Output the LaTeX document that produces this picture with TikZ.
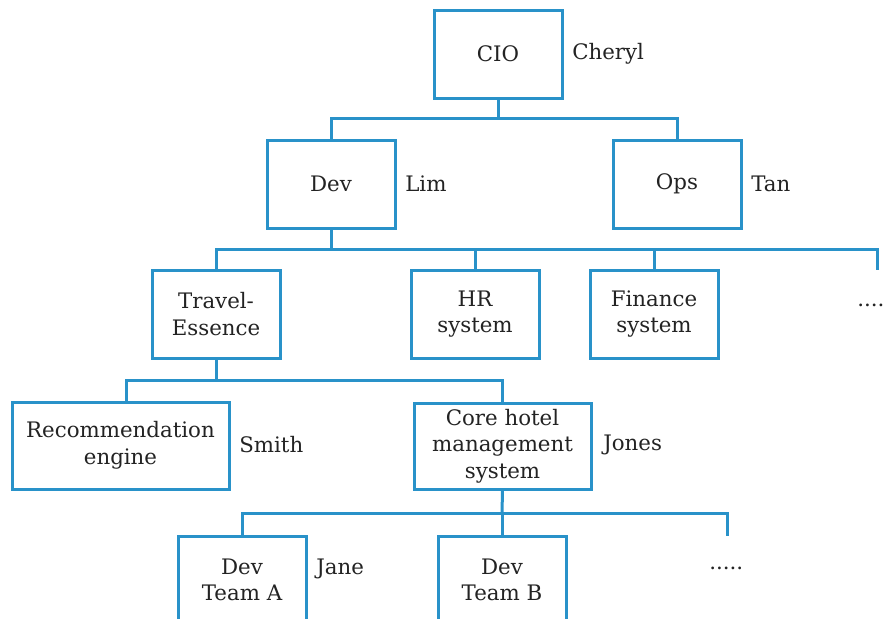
\documentclass[tikz,border=0pt]{standalone}
\usepackage{fontspec}
\setmainfont{DejaVu Serif}
\usetikzlibrary{calc}
\definecolor{cblue}{RGB}{41,146,201}
\definecolor{ctext}{RGB}{35,35,35}
\begin{document}
\begin{tikzpicture}[x=0.75pt,y=-0.75pt,
  orgbox/.style={draw=cblue,line width=2.25pt,fill=white,align=center,inner sep=0pt,
     minimum width=96pt,minimum height=66pt,text=ctext,font=\fontsize{16}{20}\selectfont},
  who/.style={anchor=west,inner sep=0pt,text=ctext,font=\fontsize{16}{20}\selectfont},
  conn/.style={draw=cblue,line width=2.25pt,line join=miter}]
\useasboundingbox (0,0) rectangle (887,618);
\clip (0,0) rectangle (887,618);
% boxes
\node[orgbox] (cio) at (498,54) {CIO};
\node[orgbox] (dev) at (331,184) {Dev};
\node[orgbox] (ops) at (677,184) {Ops};
\node[orgbox] (travel) at (216,314) {Travel-\\Essence};
\node[orgbox] (hr) at (475,314) {HR\\system};
\node[orgbox] (fin) at (654,314) {Finance\\system};
\node[orgbox,minimum width=162.75pt,minimum height=65.25pt] (rec) at (120.5,445.5) {Recommendation\\engine};
\node[orgbox,minimum width=132.75pt,minimum height=64.5pt] (core) at (502.5,446) {Core hotel\\management\\system};
\node[orgbox] (ta) at (242,580) {Dev\\Team A};
\node[orgbox] (tb) at (502,580) {Dev\\Team B};
% names
\node[who] (cheryl) at (572,54) {Cheryl};
\node[who] (lim) at (405,184) {Lim};
\node[who] (tan) at (751,184) {Tan};
\node[who] (smith) at (239,445) {Smith};
\node[who] (jones) at (603,445) {Jones};
\node[who] (jane) at (316,569) {Jane};
\node[who] (more1) at (857,305) {....};
\node[who] (more2) at (709,568) {.....};
% junctions
\coordinate (j1) at (498,118);
\coordinate (j2) at (331,249);
\coordinate (j3) at (216,380);
\coordinate (j4) at (502,513);
\coordinate (e2) at (877,270);
\coordinate (e4) at (727,536);
\coordinate (rectop) at ($(rec.north)+(5.5,0)$);
% connectors
\draw[conn] (cio.south) -- (j1);
\draw[conn] (dev.north) |- (j1) -| (ops.north);
\draw[conn] (dev.south) -- (j2);
\draw[conn] (travel.north) |- (j2) -| (e2);
\draw[conn] (hr.north) -- (hr.north |- j2);
\draw[conn] (fin.north) -- (fin.north |- j2);
\draw[conn] (travel.south) -- (j3);
\draw[conn] (rectop) |- (j3) -| (core.north);
\draw[conn] (core.south) -- (j4);
\draw[conn] (ta.north) |- (j4) -| (e4);
\draw[conn] (tb.north) -- (tb.north |- j4);
\end{tikzpicture}
\end{document}
